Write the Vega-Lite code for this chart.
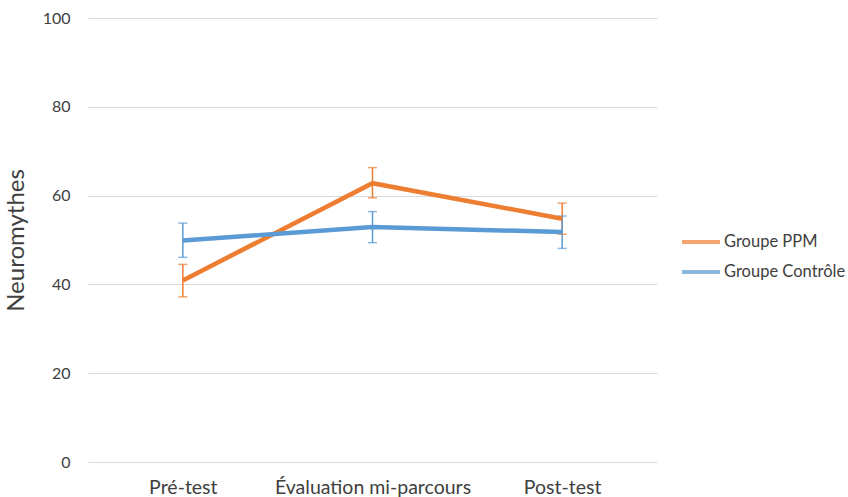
{
  "$schema": "https://vega.github.io/schema/vega-lite/v6.json",
  "autosize": "none",
  "width": 569,
  "height": 444,
  "padding": {"left": 88, "top": 18, "right": 191, "bottom": 35},
  "background": "white",
  "config": {
    "view": {"stroke": null},
    "font": "Lato",
    "axis": {"labelFont": "Lato", "titleFont": "Lato", "labelColor": "#404040", "titleColor": "#404040"}
  },
  "data": {
    "values": [
      {"phase": "Pré-test", "group": "Groupe PPM", "mean": 40.9, "low": 37.2, "high": 44.5},
      {"phase": "Évaluation mi-parcours", "group": "Groupe PPM", "mean": 62.8, "low": 59.5, "high": 66.3},
      {"phase": "Post-test", "group": "Groupe PPM", "mean": 54.8, "low": 51.3, "high": 58.3},
      {"phase": "Pré-test", "group": "Groupe Contrôle", "mean": 49.9, "low": 46.1, "high": 53.8},
      {"phase": "Évaluation mi-parcours", "group": "Groupe Contrôle", "mean": 52.9, "low": 49.4, "high": 56.4},
      {"phase": "Post-test", "group": "Groupe Contrôle", "mean": 51.8, "low": 48.1, "high": 55.4}
    ]
  },
  "encoding": {
    "x": {
      "field": "phase", "type": "ordinal",
      "sort": ["Pré-test", "Évaluation mi-parcours", "Post-test"],
      "scale": {"type": "point", "padding": 0.5},
      "axis": {"title": null, "labelAngle": 0, "domain": false, "ticks": false, "grid": false, "labelFontSize": 19.5, "labelPadding": 16, "labelLimit": 400}
    },
    "color": {
      "field": "group", "type": "nominal",
      "scale": {"domain": ["Groupe PPM", "Groupe Contrôle"], "range": ["#ED7D31", "#5B9BD5"]},
      "legend": {
        "title": null, "orient": "none", "legendX": 592, "legendY": 203,
        "symbolType": "stroke", "symbolSize": 1444, "symbolStrokeWidth": 4,
        "labelFontSize": 16.5, "labelColor": "#404040", "labelOffset": 2, "rowPadding": -8, "labelLimit": 300
      }
    }
  },
  "layer": [
    {
      "mark": {"type": "rule", "strokeWidth": 1.5},
      "encoding": {
        "y": {"field": "low", "type": "quantitative",
          "scale": {"domain": [0, 100]},
          "axis": {"title": "Neuromythes", "titleFontSize": 24, "titleFontWeight": "normal", "titlePadding": 14,
            "values": [0, 20, 40, 60, 80, 100], "domain": false, "ticks": false, "labelFontSize": 16, "labelPadding": 18,
            "gridColor": "#d9d9d9", "gridWidth": 1.2}},
        "y2": {"field": "high"}
      }
    },
    {
      "mark": {"type": "tick", "size": 9, "thickness": 1.5},
      "encoding": {"y": {"field": "low", "type": "quantitative"}}
    },
    {
      "mark": {"type": "tick", "size": 9, "thickness": 1.5},
      "encoding": {"y": {"field": "high", "type": "quantitative"}}
    },
    {
      "mark": {"type": "line", "strokeWidth": 4.5},
      "encoding": {
        "y": {"field": "mean", "type": "quantitative"},
        "detail": {"field": "group"}
      }
    }
  ]
}
